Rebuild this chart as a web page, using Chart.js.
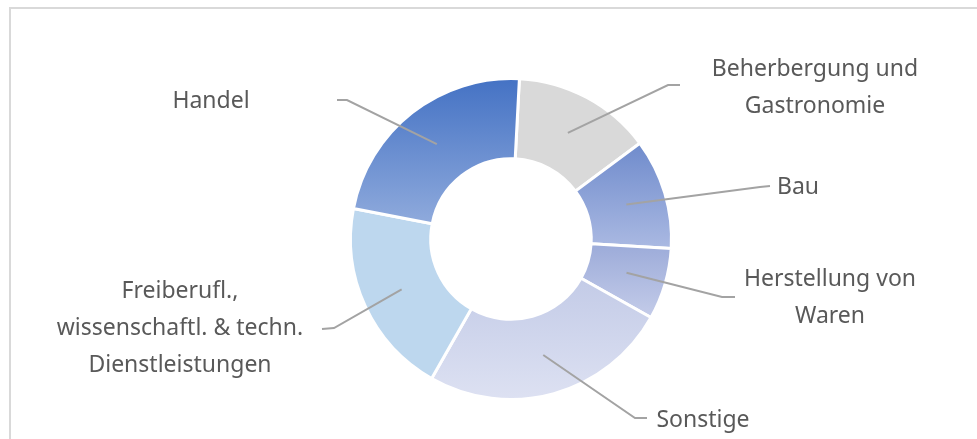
<!DOCTYPE html>
<html lang="de">
<head>
  <meta charset="UTF-8">
  <title>Branchenverteilung</title>
  <style>
    body {
      margin: 0;
      background: #fff;
    }
    canvas {
      display: block;
    }
  </style>
</head>
<body>

<canvas id="branchenChart" width="977" height="439"></canvas>

<script src="https://cdn.jsdelivr.net/npm/chart.js"></script>
<script>
  // Anteile je Branche (%), im Uhrzeigersinn ab 12 Uhr
  const branchen = [
    'Beherbergung und Gastronomie',
    'Bau',
    'Herstellung von Waren',
    'Sonstige',
    'Freiberufl., wissenschaftl. & techn. Dienstleistungen',
    'Handel'
  ];
  const labelZeilen = [
    ['Beherbergung und', 'Gastronomie'],
    ['Bau'],
    ['Herstellung von', 'Waren'],
    ['Sonstige'],
    ['Freiberufl.,', 'wissenschaftl. & techn.', 'Dienstleistungen'],
    ['Handel']
  ];
  const anteile = [14.0, 11.1, 7.2, 25.1, 19.8, 22.8];

  // Verlauf je Segment: oben -> unten
  const farbenOben = ['#d9d9d9', '#6f8bcc', '#9cabd9', '#c3cbe7', '#bdd7ee', '#4472c4'];
  const farbenUnten = ['#d9d9d9', '#aab9e2', '#c4cce9', '#dde1f2', '#bdd7ee', '#8faadc'];

  // Position der Beschriftungen und Knickpunkte der Führungslinien
  const beschriftung = [
    { x: 815, y: 76, knick: [668, 85], ende: [680, 85] },
    { x: 798, y: 194, knick: [760, 187], ende: [770, 186] },
    { x: 830, y: 286, knick: [722, 297], ende: [735, 297] },
    { x: 703, y: 427, knick: [635, 418], ende: [647, 418] },
    { x: 180, y: 298, knick: [334, 328], ende: [322, 329] },
    { x: 211, y: 108, knick: [347, 100], ende: [337, 100] }
  ];
  const zeilenAbstand = 37;

  const rahmenPlugin = {
    id: 'rahmen',
    beforeDraw(chart) {
      const ctx = chart.ctx;
      ctx.save();
      ctx.fillStyle = '#d9d9d9';
      ctx.fillRect(9, 7, 2, chart.height - 7);
      ctx.fillRect(9, 7, chart.width - 9, 2);
      ctx.restore();
    }
  };

  const verlaufPlugin = {
    id: 'verlauf',
    beforeDatasetsDraw(chart) {
      const ctx = chart.ctx;
      chart.getDatasetMeta(0).data.forEach((arc, i) => {
        const { y, startAngle, endAngle, innerRadius, outerRadius } =
          arc.getProps(['y', 'startAngle', 'endAngle', 'innerRadius', 'outerRadius'], true);
        let yMin = Infinity, yMax = -Infinity;
        for (let s = 0; s <= 60; s++) {
          const a = startAngle + (endAngle - startAngle) * s / 60;
          [innerRadius, outerRadius].forEach(r => {
            const py = y + Math.sin(a) * r;
            yMin = Math.min(yMin, py);
            yMax = Math.max(yMax, py);
          });
        }
        const g = ctx.createLinearGradient(0, yMin, 0, yMax);
        g.addColorStop(0, farbenOben[i]);
        g.addColorStop(1, farbenUnten[i]);
        arc.options.backgroundColor = g;
      });
    },
    afterDatasetsDraw(chart) {
      const ctx = chart.ctx;
      ctx.save();
      chart.getDatasetMeta(0).data.forEach((arc, i) => {
        const p = arc.getCenterPoint(true);
        const b = beschriftung[i];
        ctx.strokeStyle = '#a3a3a3';
        ctx.lineWidth = 2;
        ctx.beginPath();
        ctx.moveTo(p.x, p.y);
        ctx.lineTo(b.knick[0], b.knick[1]);
        ctx.lineTo(b.ende[0], b.ende[1]);
        ctx.stroke();

        ctx.fillStyle = '#595959';
        ctx.font = '23px "Noto Sans", sans-serif';
        ctx.textAlign = 'center';
        ctx.textBaseline = 'alphabetic';
        labelZeilen[i].forEach((zeile, k) => {
          ctx.fillText(zeile, b.x, b.y + k * zeilenAbstand);
        });
      });
      ctx.restore();
    }
  };

  const ctx = document.getElementById('branchenChart').getContext('2d');
  const branchenChart = new Chart(ctx, {
    type: 'doughnut',
    data: {
      labels: branchen,
      datasets: [{
        data: anteile,
        backgroundColor: farbenOben,
        borderColor: '#ffffff',
        borderWidth: 3,
        hoverBorderWidth: 3,
        offset: 0,
        hoverOffset: 0
      }]
    },
    options: {
      responsive: false,
      animation: false,
      events: [],
      cutout: '50%',
      rotation: 3,
      layout: {
        padding: { top: 77, bottom: 38, left: 300, right: 255 }
      },
      plugins: {
        legend: { display: false },
        tooltip: { enabled: false }
      }
    },
    plugins: [rahmenPlugin, verlaufPlugin]
  });
</script>

</body>
</html>
